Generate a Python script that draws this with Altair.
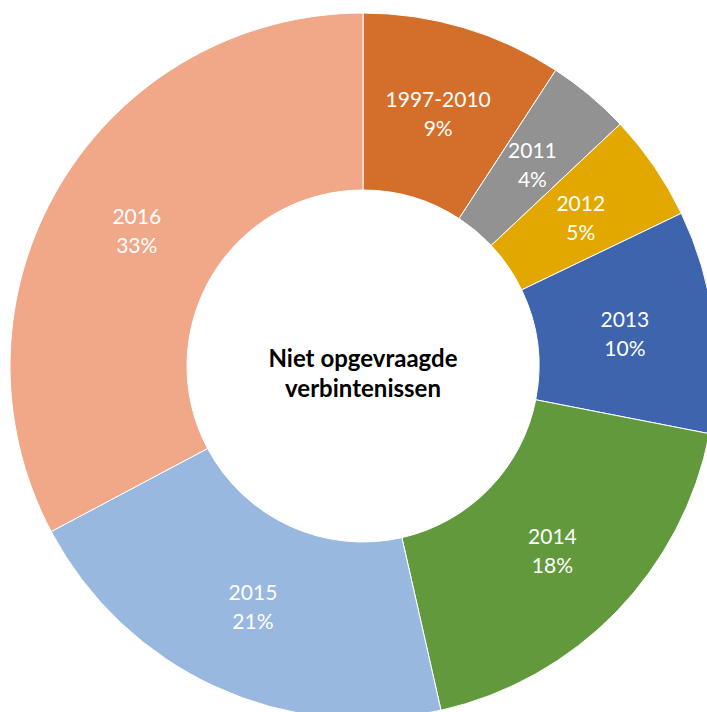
import altair as alt
import pandas as pd

categories = ["1997-2010", "2011", "2012", "2013", "2014", "2015", "2016"]
values = [9.2, 3.8, 4.9, 10.2, 18.4, 20.8, 32.8]
pct_labels = ["9%", "4%", "5%", "10%", "18%", "21%", "33%"]
colors = ["#D46F2B", "#929292", "#E2A800", "#3D64AD", "#63993D", "#98B8DF", "#F0A888"]
center_title = "Niet opgevraagde\nverbintenissen"

df = pd.DataFrame({
    "cat": categories,
    "value": values,
    "label": [f"{c}\n{p}" for c, p in zip(categories, pct_labels)],
    "order": list(range(len(categories))),
})

CX, CY = 363, 366

base = alt.Chart(df).encode(
    theta=alt.Theta("value:Q", stack=True, scale=alt.Scale(range=[0, 6.283185307])),
    order=alt.Order("order:Q"),
)

arcs = base.mark_arc(innerRadius=176, outerRadius=353, stroke="white", strokeWidth=1).encode(
    color=alt.Color("cat:N", scale=alt.Scale(domain=categories, range=colors), legend=None),
    x=alt.value(CX),
    y=alt.value(CY),
)

labels = base.mark_text(
    radius=264, color="white", fontSize=21, font="Lato", lineBreak="\n",
    lineHeight=29, align="center", baseline="middle", dy=-12,
).encode(
    text="label:N",
    x=alt.value(CX),
    y=alt.value(CY),
)

center = alt.Chart(pd.DataFrame({"t": [center_title]})).mark_text(
    fontSize=24, fontWeight="bold", font="Lato", lineBreak="\n",
    lineHeight=30, align="center", baseline="middle", color="black",
).encode(text="t:N", x=alt.value(CX), y=alt.value(CY - 6))

chart = alt.layer(arcs, labels, center).properties(
    width=707, height=712,
    autosize=alt.AutoSizeParams(type="none"),
    padding=0,
).configure_view(stroke=None)

chart.save("out.html", embed_options={"renderer": "svg", "actions": False})
